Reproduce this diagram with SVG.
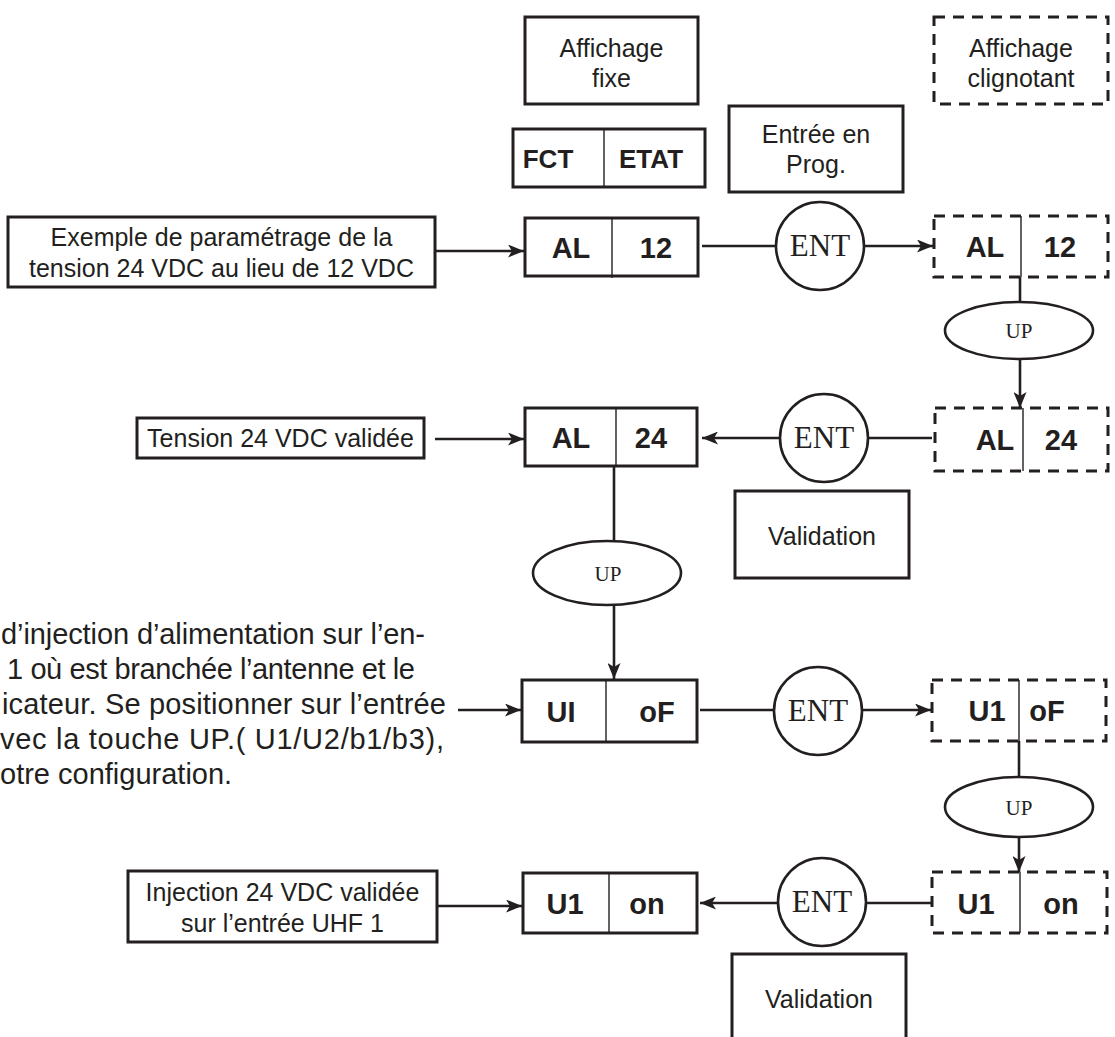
<svg xmlns="http://www.w3.org/2000/svg" width="1115" height="1037" viewBox="0 0 1115 1037">
  <style>
    .box { fill: #ffffff; stroke: #231f20; stroke-width: 3; }
    .dash { fill: #ffffff; stroke: #231f20; stroke-width: 3; stroke-dasharray: 11 8; }
    .div { stroke: #231f20; stroke-width: 1.4; }
    .key { fill: #ffffff; stroke: #231f20; stroke-width: 2.6; }
    .lbl { font-family: "Liberation Sans", Arial, sans-serif; font-size: 25px; fill: #231f20; text-anchor: middle; }
    .note { font-family: "Liberation Sans", Arial, sans-serif; font-size: 29px; fill: #231f20; }
    .seg { font-family: "Liberation Sans", Arial, sans-serif; font-weight: bold; font-size: 29px; fill: #231f20; text-anchor: middle; }
    .hdr { font-family: "Liberation Sans", Arial, sans-serif; font-weight: bold; font-size: 26px; fill: #231f20; text-anchor: middle; }
    .ent { font-family: "Liberation Serif", "Times New Roman", serif; font-size: 31px; fill: #231f20; text-anchor: middle; }
    .up { font-family: "Liberation Serif", "Times New Roman", serif; font-size: 21px; fill: #231f20; text-anchor: middle; }
    .wire { fill: none; stroke: #231f20; stroke-width: 2.6; }
    .arrow { marker-end: url(#head); }
  </style>
  <defs>
    <marker id="head" markerUnits="userSpaceOnUse" markerWidth="17" markerHeight="13" refX="16" refY="6.5" orient="auto">
      <path d="M0,0 L16,6.5 L0,13 L4,6.5 z" fill="#231f20"/>
    </marker>
  </defs>

  <!-- legend -->
  <g id="legend-fixed">
    <rect class="box" x="525" y="17" width="173" height="87"/>
    <text class="lbl" x="611.5" y="57">Affichage</text>
    <text class="lbl" x="611.5" y="87">fixe</text>
  </g>
  <g id="legend-blinking">
    <rect class="dash" x="934" y="17" width="174" height="87"/>
    <text class="lbl" x="1021" y="57">Affichage</text>
    <text class="lbl" x="1021" y="87">clignotant</text>
  </g>
  <g id="legend-fields">
    <rect class="box" x="513" y="129" width="192" height="58"/>
    <line class="div" x1="604" y1="129" x2="604" y2="187"/>
    <text class="hdr" x="548" y="168">FCT</text>
    <text class="hdr" x="651" y="168">ETAT</text>
  </g>
  <g id="prog-entry">
    <rect class="box" x="729" y="106" width="174" height="86"/>
    <text class="lbl" x="816" y="143">Entrée en</text>
    <text class="lbl" x="816" y="173">Prog.</text>
  </g>

  <!-- row 1 -->
  <g id="example">
    <rect class="box" x="8" y="217" width="427" height="70"/>
    <text class="lbl" x="221.5" y="246">Exemple de paramétrage de la</text>
    <text class="lbl" x="221.5" y="277">tension 24 VDC au lieu de 12 VDC</text>
  </g>
  <g id="al12">
    <rect class="box" x="525" y="218" width="173" height="58"/>
    <line class="div" x1="612" y1="218" x2="612" y2="278"/>
    <text class="seg" x="571" y="258">AL</text>
    <text class="seg" x="656" y="258">12</text>
  </g>
  <g id="ent1">
    <ellipse class="key" cx="820" cy="246" rx="44" ry="44"/>
    <text class="ent" x="820" y="256">ENT</text>
  </g>
  <g id="al12-blink">
    <rect class="dash" x="934" y="216" width="174" height="61"/>
    <line class="div" x1="1021" y1="216" x2="1021" y2="277"/>
    <text class="seg" x="985" y="257">AL</text>
    <text class="seg" x="1060" y="257">12</text>
  </g>
  <g id="up1">
    <ellipse class="key" cx="1019" cy="330.5" rx="74" ry="28.5"/>
    <text class="up" x="1019" y="338">UP</text>
  </g>

  <!-- row 2 -->
  <g id="tension-ok">
    <rect class="box" x="137" y="418" width="287" height="40"/>
    <text class="lbl" x="280.5" y="447">Tension 24 VDC validée</text>
  </g>
  <g id="al24">
    <rect class="box" x="525" y="408" width="172" height="58"/>
    <line class="div" x1="616" y1="408" x2="616" y2="466"/>
    <text class="seg" x="571" y="448">AL</text>
    <text class="seg" x="651" y="448">24</text>
  </g>
  <g id="ent2">
    <ellipse class="key" cx="824" cy="438" rx="44" ry="44"/>
    <text class="ent" x="824" y="448">ENT</text>
  </g>
  <g id="al24-blink">
    <rect class="dash" x="935" y="408" width="173" height="63"/>
    <line class="div" x1="1023" y1="408" x2="1023" y2="471"/>
    <text class="seg" x="995" y="450">AL</text>
    <text class="seg" x="1061" y="450">24</text>
  </g>
  <g id="validation1">
    <rect class="box" x="735" y="491" width="174" height="87"/>
    <text class="lbl" x="822" y="545">Validation</text>
  </g>
  <g id="up2">
    <ellipse class="key" cx="607" cy="573" rx="74" ry="32"/>
    <text class="up" x="608" y="581">UP</text>
  </g>

  <!-- row 3 -->
  <g id="note">
    <text class="note" x="1" y="644" textLength="424">d’injection d’alimentation sur l’en-</text>
    <text class="note" x="7" y="679" textLength="408">1 où est branchée l’antenne et le</text>
    <text class="note" x="2" y="714" textLength="444">icateur. Se positionner sur l’entrée</text>
    <text class="note" x="0" y="749" textLength="444">vec la touche UP.( U1/U2/b1/b3),</text>
    <text class="note" x="0" y="784">otre configuration.</text>
  </g>
  <g id="u1-off">
    <rect class="box" x="522" y="680" width="175" height="62"/>
    <line class="div" x1="606" y1="680" x2="606" y2="742"/>
    <text class="seg" x="561" y="722">UI</text>
    <text class="seg" x="657" y="722">oF</text>
  </g>
  <g id="ent3">
    <ellipse class="key" cx="818" cy="711" rx="44" ry="44"/>
    <text class="ent" x="818" y="721">ENT</text>
  </g>
  <g id="u1-off-blink">
    <rect class="dash" x="932" y="680" width="174" height="61"/>
    <line class="div" x1="1019" y1="680" x2="1019" y2="741"/>
    <text class="seg" x="987" y="721">U1</text>
    <text class="seg" x="1047" y="721">oF</text>
  </g>
  <g id="up3">
    <ellipse class="key" cx="1019" cy="807" rx="74" ry="30"/>
    <text class="up" x="1019" y="815">UP</text>
  </g>

  <!-- row 4 -->
  <g id="injection-ok">
    <rect class="box" x="128" y="871" width="309" height="71"/>
    <text class="lbl" x="282.5" y="901">Injection 24 VDC validée</text>
    <text class="lbl" x="282.5" y="932">sur l’entrée UHF 1</text>
  </g>
  <g id="u1-on">
    <rect class="box" x="523" y="873" width="174" height="60"/>
    <line class="div" x1="609" y1="873" x2="609" y2="933"/>
    <text class="seg" x="565" y="914">U1</text>
    <text class="seg" x="647" y="914">on</text>
  </g>
  <g id="ent4">
    <ellipse class="key" cx="822" cy="902" rx="44" ry="44"/>
    <text class="ent" x="822" y="912">ENT</text>
  </g>
  <g id="u1-on-blink">
    <rect class="dash" x="932" y="872" width="175" height="61"/>
    <line class="div" x1="1020" y1="872" x2="1020" y2="933"/>
    <text class="seg" x="976" y="914">U1</text>
    <text class="seg" x="1061" y="914">on</text>
  </g>
  <g id="validation2">
    <rect class="box" x="732" y="954" width="174" height="110"/>
    <text class="lbl" x="819" y="1008">Validation</text>
  </g>

  <!-- connectors -->
  <g id="connectors">
    <line class="wire arrow" x1="435" y1="251" x2="524" y2="251"/>
    <line class="wire" x1="702" y1="246" x2="776" y2="246"/>
    <line class="wire arrow" x1="864" y1="246" x2="933" y2="246"/>
    <line class="wire" x1="1020" y1="277" x2="1020" y2="302"/>
    <line class="wire arrow" x1="1020" y1="359" x2="1020" y2="408"/>

    <line class="wire" x1="932" y1="438" x2="868" y2="438"/>
    <line class="wire arrow" x1="780" y1="438" x2="702" y2="438"/>
    <line class="wire arrow" x1="435" y1="439" x2="524" y2="439"/>
    <line class="wire" x1="614" y1="466" x2="614" y2="541"/>
    <line class="wire arrow" x1="614" y1="605" x2="614" y2="679"/>

    <line class="wire arrow" x1="458" y1="710" x2="521" y2="710"/>
    <line class="wire" x1="700" y1="710" x2="774" y2="710"/>
    <line class="wire arrow" x1="862" y1="710" x2="931" y2="710"/>
    <line class="wire" x1="1019" y1="741" x2="1019" y2="777"/>
    <line class="wire arrow" x1="1019" y1="837" x2="1019" y2="872"/>

    <line class="wire" x1="932" y1="903" x2="866" y2="903"/>
    <line class="wire arrow" x1="778" y1="903" x2="700" y2="903"/>
    <line class="wire arrow" x1="437" y1="906" x2="522" y2="906"/>
  </g>
</svg>
